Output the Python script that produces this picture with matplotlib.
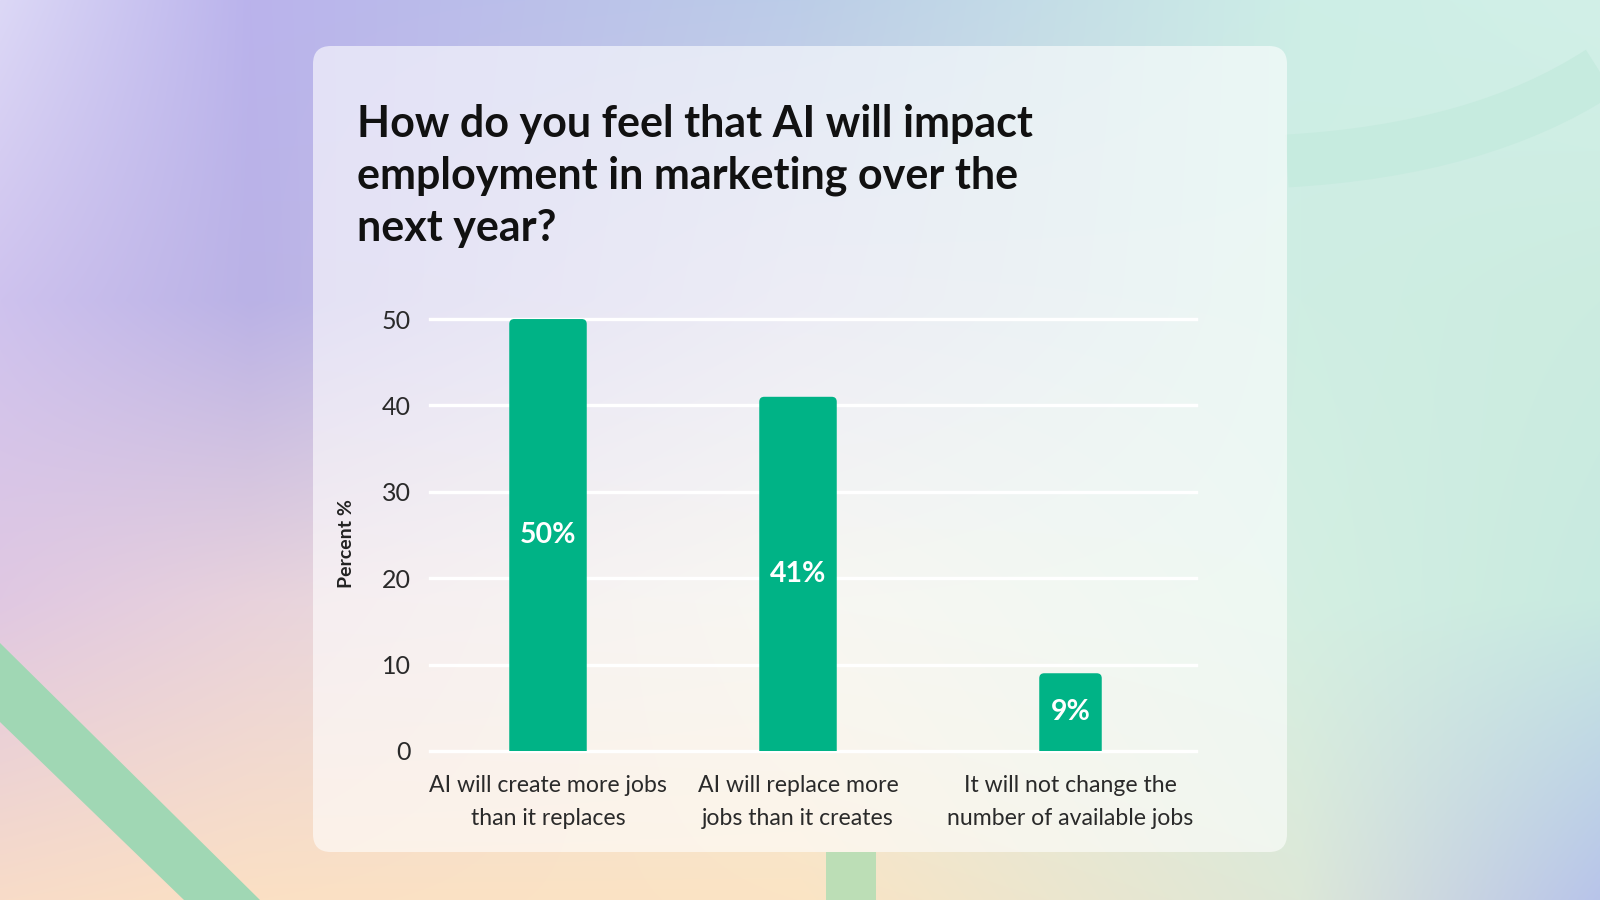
import matplotlib.pyplot as plt
import numpy as np
from matplotlib.patches import FancyBboxPatch, Polygon, Rectangle, PathPatch
from matplotlib.path import Path

# data
categories = ['AI will create more jobs\nthan it replaces',
              'AI will replace more\njobs than it creates',
              'It will not change the\nnumber of available jobs']
percent = [50, 41, 9]
value_labels = ['50%', '41%', '9%']
yticks = [0, 10, 20, 30, 40, 50]
title = 'How do you feel that AI will impact\nemployment in marketing over the\nnext year?'
ylabel = 'Percent %'

bar_color = '#00B386'
W, H = 1600, 900

fig = plt.figure(figsize=(16, 9), dpi=100)

# background canvas in pixel units
bg = fig.add_axes([0, 0, 1, 1])
bg.set_xlim(0, W)
bg.set_ylim(H, 0)
bg.axis('off')

# soft gradient from a few anchor colours
gx = [0, 250, 800, 1300, 1600]
gy = [0, 300, 600, 900]
grid_hex = [['#dcd8f6', '#bab3ec', '#bccde8', '#cdeee6', '#d2f0e8'],
            ['#cec2ee', '#bab2e6', '#d2d2e8', '#cfeee3', '#ccece0'],
            ['#e0c8e2', '#e8d2dc', '#eeece0', '#d4efe2', '#c8eae0'],
            ['#f8dcc8', '#fbe0c4', '#fbe4c4', '#dde8d8', '#b8c4ea']]
anchor = np.array([[[int(c[i:i + 2], 16) / 255 for i in (1, 3, 5)] for c in row]
                   for row in grid_hex])
xx = np.arange(W)
yy = np.arange(H)
rows = np.stack([np.stack([np.interp(xx, gx, anchor[r, :, ch]) for ch in range(3)], -1)
                 for r in range(len(gy))])
img = np.empty((H, W, 3))
for ch in range(3):
    for j in range(W):
        img[:, j, ch] = np.interp(yy, gy, rows[:, j, ch])
bg.imshow(img, extent=(0, W, H, 0), aspect='auto', zorder=0)

# decorative shapes
bg.add_patch(Polygon([(0, 643), (260, 900), (184, 900), (0, 722)],
                     closed=True, fc='#a0d7b4', ec='none', zorder=1))
bg.add_patch(Rectangle((826, 852), 50, 48, fc='#bcdeb6', ec='none', zorder=1))
arc = Path([(1287, 161), (1480, 150), (1600, 72)],
           [Path.MOVETO, Path.CURVE3, Path.CURVE3])
bg.add_patch(PathPatch(arc, fill=False, ec='#c6ebdf', lw=38, capstyle='butt', zorder=1))

# card
bg.add_patch(FancyBboxPatch((313, 46), 974, 806,
                            boxstyle='round,pad=0,rounding_size=18',
                            fc='white', ec='none', alpha=0.6, zorder=2))

fig.text(357 / W, 1 - 104 / H, title, fontsize=31, fontweight='bold',
         family='Lato', color='#111111', va='top', ha='left', linespacing=1.36)

# chart axes
left, right, bottom, top = 430, 1196, 751, 310.4
ax = fig.add_axes([left / W, 1 - bottom / H, (right - left) / W, (bottom - top) / H])
ax.patch.set_alpha(0)
for s in ax.spines.values():
    s.set_visible(False)

xpos = [0, 1, 2.09]
widths = [0.31, 0.31, 0.25]
ax.set_xlim(-0.472, 2.592)
ax.set_ylim(0, 51)

for t in yticks:
    ax.axhline(t, color='white', lw=2.4, zorder=1, clip_on=False)

bars = ax.bar(xpos, percent, width=widths, color=bar_color, zorder=2)
# rounded tops
ypx = 51 / (bottom - top)
xpx = (2.592 + 0.472) / (right - left)
for b in bars:
    b.set_visible(False)
    ax.add_patch(FancyBboxPatch((b.get_x(), -2), b.get_width(), b.get_height() + 2,
                                boxstyle='round,pad=0,rounding_size=%f' % (5 * xpx),
                                mutation_aspect=ypx / xpx,
                                fc=bar_color, ec='none', zorder=3))

for x, v, lab in zip(xpos, percent, value_labels):
    ax.text(x, v / 2, lab, ha='center', va='center', color='white',
            fontsize=20.5, fontweight='bold', family='Lato', zorder=4)

ax.set_yticks(yticks)
ax.set_yticklabels([str(t) for t in yticks], fontsize=18, family='Lato',
                   color='#2a2a2a')
ax.set_xticks(xpos)
ax.set_xticklabels(categories, fontsize=16.6, family='Lato',
                   color='#2a2a2a', linespacing=1.75)
ax.tick_params(axis='y', length=0, pad=14)
ax.tick_params(axis='x', length=0, pad=17)

ax.text((347 - left) / (right - left), (bottom - 544) / (bottom - top), ylabel,
        transform=ax.transAxes, rotation=90, ha='center', va='center',
        fontsize=14, fontweight='bold', family='Lato', color='#222222')

plt.savefig('out.png', dpi=100)
